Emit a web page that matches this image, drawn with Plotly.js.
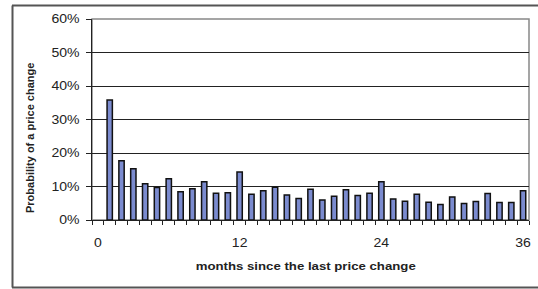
<!DOCTYPE html>
<html>
<head>
<meta charset="utf-8">
<script src="https://cdn.plot.ly/plotly-3.0.1.min.js"></script>
<style>
html,body{margin:0;padding:0;background:#fff;}
#chart{width:538px;height:289px;}
</style>
</head>
<body>
<div id="chart"></div>
<script>
var months = [];
for (var m = 1; m <= 36; m++) months.push(m);
var probability = [0.358, 0.177, 0.153, 0.108, 0.097, 0.123, 0.084, 0.093, 0.114, 0.080,
  0.081, 0.143, 0.077, 0.087, 0.098, 0.075, 0.064, 0.092, 0.060, 0.071,
  0.090, 0.073, 0.080, 0.114, 0.063, 0.056, 0.077, 0.053, 0.046, 0.069,
  0.049, 0.055, 0.079, 0.052, 0.052, 0.087];
var xTickVals = [0, 12, 24, 36];
var xTickText = ['0', '12', '24', '36'];
var yTickVals = [0, 0.1, 0.2, 0.3, 0.4, 0.5, 0.6];
var yTickText = ['0%', '10%', '20%', '30%', '40%', '50%', '60%'];

var font = 'Liberation Sans, Arial, sans-serif';
var trace = {
  type: 'bar',
  x: months,
  y: probability,
  width: 0.45,
  marker: {color: '#7b8bcf', line: {color: '#111', width: 1.5}},
  hoverinfo: 'none'
};
var layout = {
  width: 538, height: 289,
  margin: {l: 92, r: 9, t: 19, b: 69},
  paper_bgcolor: '#fff', plot_bgcolor: '#fff',
  showlegend: false,
  font: {family: font, size: 12, color: '#222'},
  xaxis: {
    range: [-0.5, 36.5],
    tickmode: 'array', tickvals: xTickVals, ticktext: xTickText,
    ticks: '', showgrid: false, zeroline: false,
    showline: true, linecolor: '#222', linewidth: 1,
    ticklabelstandoff: 12,
    tickfont: {family: font, size: 12, color: '#222'},
    minor: {tickmode: 'linear', tick0: -0.5, dtick: 1, ticks: 'outside', ticklen: 4, tickcolor: '#222', tickwidth: 1, showgrid: false}
  },
  yaxis: {
    range: [0, 0.6],
    tickmode: 'array', tickvals: yTickVals, ticktext: yTickText,
    ticks: 'outside', ticklen: 5, tickcolor: '#222', tickwidth: 1,
    showgrid: true, gridcolor: '#222', gridwidth: 1,
    zeroline: false, showline: true, linecolor: '#222', linewidth: 1,
    ticklabelstandoff: 4,
    tickfont: {family: font, size: 12, color: '#222'}
  },
  shapes: [
    {type: 'rect', xref: 'paper', yref: 'paper', x0: 0, x1: 1, y0: 0, y1: 1,
     line: {color: '#888', width: 1.5}, fillcolor: 'rgba(0,0,0,0)', layer: 'below'},
    {type: 'line', xref: 'paper', yref: 'paper', x0: (12 - 92) / 437, x1: (545 - 92) / 437, y0: (220 - 5.5) / 201, y1: (220 - 5.5) / 201,
     line: {color: '#555', width: 2}},
    {type: 'line', xref: 'paper', yref: 'paper', x0: (12.5 - 92) / 437, x1: (12.5 - 92) / 437, y0: (220 - 5.5) / 201, y1: (220 - 287.5) / 201,
     line: {color: '#555', width: 2}},
    {type: 'line', xref: 'paper', yref: 'paper', x0: (12 - 92) / 437, x1: (545 - 92) / 437, y0: (220 - 287.5) / 201, y1: (220 - 287.5) / 201,
     line: {color: '#555', width: 2}}
  ],
  annotations: [
    {text: '<b>Probability of a price change</b>', textangle: -90, xref: 'paper', yref: 'paper',
     x: (30 - 92) / 437, y: (220 - 138) / 201, xanchor: 'center', yanchor: 'middle', showarrow: false,
     font: {family: font, size: 11, color: '#222'}},
    {text: '<b>months since the last price change</b>', xref: 'paper', yref: 'paper',
     x: (305.5 - 92) / 437, y: (220 - 266) / 201, xanchor: 'center', yanchor: 'middle', showarrow: false,
     font: {family: font, size: 11, color: '#222'}}
  ]
};

function stretch(sel, factor) {
  document.querySelectorAll(sel).forEach(function (t) {
    var len = t.getComputedTextLength();
    if (len > 0) {
      t.setAttribute('textLength', (len * factor).toFixed(2));
      t.setAttribute('lengthAdjust', 'spacingAndGlyphs');
    }
  });
}

Plotly.newPlot('chart', [trace], layout, {staticPlot: true, displayModeBar: false}).then(function () {
  stretch('#chart .xtick text, #chart .ytick text', 1.17);
  stretch('#chart .annotation[data-index="1"] text', 1.2);
});
</script>
</body>
</html>
